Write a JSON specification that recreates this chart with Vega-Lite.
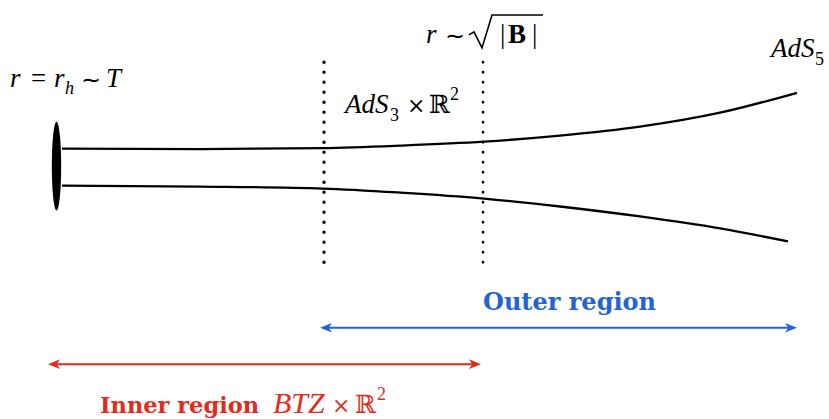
{
  "$schema": "https://vega.github.io/schema/vega-lite/v6.json",
  "width": 829,
  "height": 419,
  "autosize": {"type": "fit", "contains": "padding"},
  "padding": 0,
  "background": "white",
  "config": {"view": {"stroke": null}},
  "encoding": {
    "x": {"field": "x", "type": "quantitative", "scale": {"domain": [0, 829], "nice": false, "zero": false}, "axis": null},
    "y": {"field": "y", "type": "quantitative", "scale": {"domain": [0, 419], "reverse": true, "nice": false, "zero": false}, "axis": null}
  },
  "layer": [
    {
      "data": {"values": [
        {"c": "top", "x": 62, "y": 149}, {"c": "top", "x": 200, "y": 149.5}, {"c": "top", "x": 323, "y": 148.5}, {"c": "top", "x": 400, "y": 146}, {"c": "top", "x": 484, "y": 142}, {"c": "top", "x": 560, "y": 136}, {"c": "top", "x": 640, "y": 127}, {"c": "top", "x": 720, "y": 113}, {"c": "top", "x": 797, "y": 93},
        {"c": "bottom", "x": 62, "y": 186}, {"c": "bottom", "x": 200, "y": 187}, {"c": "bottom", "x": 323, "y": 189}, {"c": "bottom", "x": 400, "y": 193}, {"c": "bottom", "x": 484, "y": 199}, {"c": "bottom", "x": 560, "y": 207}, {"c": "bottom", "x": 640, "y": 217}, {"c": "bottom", "x": 720, "y": 229}, {"c": "bottom", "x": 788, "y": 242}
      ]},
      "mark": {"type": "line", "color": "black", "strokeWidth": 2.3, "interpolate": "monotone"},
      "encoding": {"detail": {"field": "c"}}
    },
    {
      "data": {"values": [{"x": 56.5, "y": 166.5}]},
      "mark": {"type": "point", "filled": true, "color": "black", "opacity": 1, "size": 7900, "shape": "M -0.105 0 A 0.105 1 0 0 1 0.105 0 A 0.105 1 0 0 1 -0.105 0 Z"}
    },
    {
      "data": {"values": [{"x": 324, "y": 263, "y2": 62}]},
      "mark": {"type": "rule", "color": "black", "strokeWidth": 3.4, "strokeCap": "round", "strokeDash": [0.1, 9.9]},
      "encoding": {"y2": {"field": "y2"}}
    },
    {
      "data": {"values": [{"x": 483, "y": 263, "y2": 62}]},
      "mark": {"type": "rule", "color": "black", "strokeWidth": 2.8, "strokeCap": "round", "strokeDash": [0.1, 9.9]},
      "encoding": {"y2": {"field": "y2"}}
    },
    {
      "data": {"values": [{"region": "outer", "x": 324, "x2": 792, "y": 328.5}, {"region": "inner", "x": 52, "x2": 476, "y": 365}]},
      "mark": {"type": "rule", "strokeWidth": 2},
      "encoding": {
        "x2": {"field": "x2"},
        "color": {"field": "region", "type": "nominal", "scale": {"domain": ["outer", "inner"], "range": ["#2462d6", "#e5291d"]}, "legend": null}
      }
    },
    {
      "data": {"values": [{"region": "outer", "x": 791, "y": 328.5}, {"region": "inner", "x": 475, "y": 365}]},
      "mark": {"type": "point", "filled": true, "opacity": 1, "size": 144, "shape": "M 1 0 L -1 -0.8 L -0.45 0 L -1 0.8 Z"},
      "encoding": {
        "color": {"field": "region", "type": "nominal", "scale": {"domain": ["outer", "inner"], "range": ["#2462d6", "#e5291d"]}, "legend": null}
      }
    },
    {
      "data": {"values": [{"region": "outer", "x": 326, "y": 328.5}, {"region": "inner", "x": 54, "y": 365}]},
      "mark": {"type": "point", "filled": true, "opacity": 1, "size": 144, "shape": "M -1 0 L 1 -0.8 L 0.45 0 L 1 0.8 Z"},
      "encoding": {
        "color": {"field": "region", "type": "nominal", "scale": {"domain": ["outer", "inner"], "range": ["#2462d6", "#e5291d"]}, "legend": null}
      }
    },
    {
      "data": {"values": [{"x": 469, "y": 35}, {"x": 474, "y": 32}, {"x": 482, "y": 48}, {"x": 492, "y": 15}, {"x": 543, "y": 15}]},
      "mark": {"type": "line", "color": "black", "strokeWidth": 1.6}
    },
    {
      "data": {"values": [
        {"t": "r", "x": 10, "y": 87}, {"t": "r", "x": 54, "y": 87}, {"t": "T", "x": 106, "y": 87},
        {"t": "r", "x": 426, "y": 43},
        {"t": "AdS", "x": 345, "y": 113},
        {"t": "AdS", "x": 771, "y": 57}
      ]},
      "mark": {"type": "text", "align": "left", "baseline": "alphabetic", "font": "Liberation Serif", "fontStyle": "italic", "fontSize": 27, "color": "black"},
      "encoding": {"text": {"field": "t"}}
    },
    {
      "data": {"values": [{"t": "h", "x": 65, "y": 94}]},
      "mark": {"type": "text", "align": "left", "baseline": "alphabetic", "font": "Liberation Serif", "fontStyle": "italic", "fontSize": 18, "color": "black"},
      "encoding": {"text": {"field": "t"}}
    },
    {
      "data": {"values": [
        {"t": "=", "x": 31, "y": 87},
        {"t": "|", "x": 500, "y": 43}, {"t": "|", "x": 532, "y": 43}
      ]},
      "mark": {"type": "text", "align": "left", "baseline": "alphabetic", "font": "Liberation Serif", "fontSize": 27, "color": "black"},
      "encoding": {"text": {"field": "t"}}
    },
    {
      "data": {"values": [{"t": "∼", "x": 81, "y": 88}, {"t": "∼", "x": 445, "y": 44}]},
      "mark": {"type": "text", "align": "left", "baseline": "alphabetic", "font": "Liberation Serif", "fontSize": 24, "color": "black"},
      "encoding": {"text": {"field": "t"}}
    },
    {
      "data": {"values": [{"t": "×", "x": 407, "y": 113}]},
      "mark": {"type": "text", "align": "left", "baseline": "alphabetic", "font": "DejaVu Serif", "fontSize": 22, "color": "black"},
      "encoding": {"text": {"field": "t"}}
    },
    {
      "data": {"values": [{"t": "B", "x": 508, "y": 43}]},
      "mark": {"type": "text", "align": "left", "baseline": "alphabetic", "font": "Liberation Serif", "fontWeight": "bold", "fontSize": 27, "color": "black"},
      "encoding": {"text": {"field": "t"}}
    },
    {
      "data": {"values": [{"t": "ℝ", "x": 429, "y": 113}]},
      "mark": {"type": "text", "align": "left", "baseline": "alphabetic", "font": "DejaVu Serif", "fontSize": 25, "color": "black"},
      "encoding": {"text": {"field": "t"}}
    },
    {
      "data": {"values": [
        {"t": "3", "x": 390, "y": 121}, {"t": "5", "x": 815, "y": 65}, {"t": "2", "x": 450, "y": 100}
      ]},
      "mark": {"type": "text", "align": "left", "baseline": "alphabetic", "font": "Liberation Serif", "fontSize": 18, "color": "black"},
      "encoding": {"text": {"field": "t"}}
    },
    {
      "data": {"values": [{"t": "Outer region", "x": 483, "y": 311}]},
      "mark": {"type": "text", "align": "left", "baseline": "alphabetic", "font": "DejaVu Serif", "fontWeight": "bold", "fontSize": 24, "color": "#2462d6"},
      "encoding": {"text": {"field": "t"}}
    },
    {
      "data": {"values": [{"t": "Inner region", "x": 100, "y": 414}]},
      "mark": {"type": "text", "align": "left", "baseline": "alphabetic", "font": "DejaVu Serif", "fontWeight": "bold", "fontSize": 22.5, "color": "#e5291d"},
      "encoding": {"text": {"field": "t"}}
    },
    {
      "data": {"values": [{"t": "BTZ", "x": 273, "y": 414}]},
      "mark": {"type": "text", "align": "left", "baseline": "alphabetic", "font": "Liberation Serif", "fontStyle": "italic", "fontSize": 30, "color": "#e5291d"},
      "encoding": {"text": {"field": "t"}}
    },
    {
      "data": {"values": [{"t": "×", "x": 332, "y": 414}]},
      "mark": {"type": "text", "align": "left", "baseline": "alphabetic", "font": "DejaVu Serif", "fontSize": 22, "color": "#e5291d"},
      "encoding": {"text": {"field": "t"}}
    },
    {
      "data": {"values": [{"t": "ℝ", "x": 355, "y": 414}]},
      "mark": {"type": "text", "align": "left", "baseline": "alphabetic", "font": "DejaVu Serif", "fontSize": 25, "color": "#e5291d"},
      "encoding": {"text": {"field": "t"}}
    },
    {
      "data": {"values": [{"t": "2", "x": 377, "y": 401}]},
      "mark": {"type": "text", "align": "left", "baseline": "alphabetic", "font": "Liberation Serif", "fontSize": 18, "color": "#e5291d"},
      "encoding": {"text": {"field": "t"}}
    }
  ]
}
